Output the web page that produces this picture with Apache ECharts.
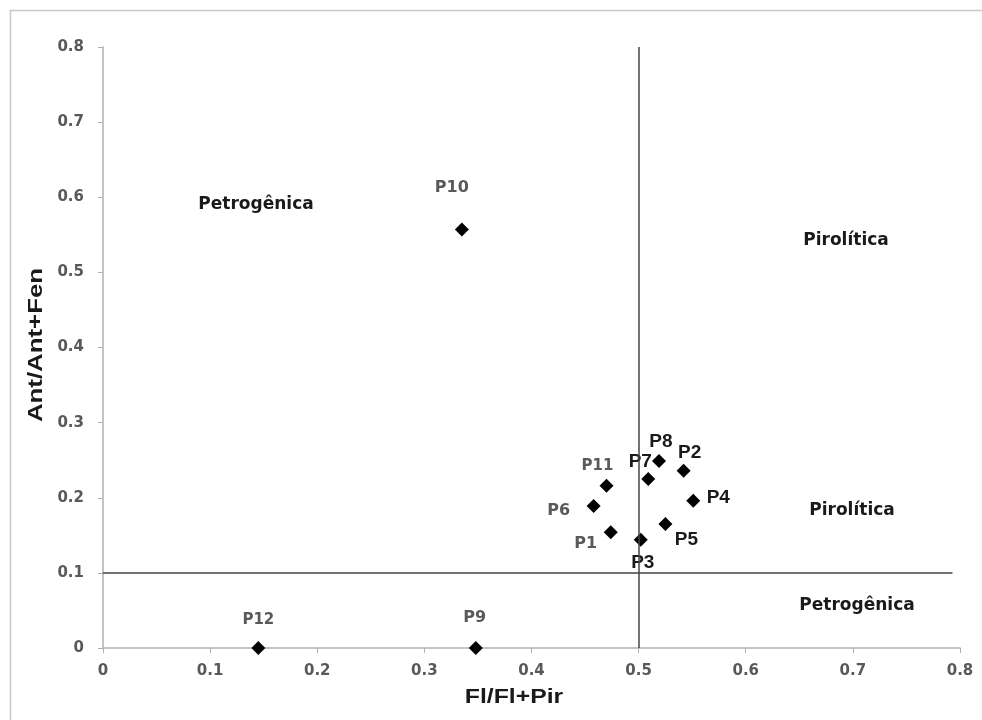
<!DOCTYPE html>
<html>
<head>
<meta charset="utf-8">
<script src="https://cdn.jsdelivr.net/npm/echarts@6/dist/echarts.min.js"></script>
<style>
  html, body { margin: 0; padding: 0; background: #fff; }
  #chart { width: 982px; height: 720px; }
</style>
</head>
<body>
<div id="chart"></div>
<script>
// amostras
const pointNames = ["P1", "P2", "P3", "P4", "P5", "P6", "P7", "P8", "P9", "P10", "P11", "P12"];
const flPir = [0.474, 0.542, 0.502, 0.551, 0.525, 0.458, 0.509, 0.519, 0.348, 0.335, 0.470, 0.145];
const antFen = [0.154, 0.236, 0.144, 0.196, 0.165, 0.189, 0.225, 0.249, 0.0, 0.557, 0.216, 0.0];
const xTicks = [0, 0.1, 0.2, 0.3, 0.4, 0.5, 0.6, 0.7, 0.8];
const yTicks = [0, 0.1, 0.2, 0.3, 0.4, 0.5, 0.6, 0.7, 0.8];
const flLimit = 0.5;
const antLimit = 0.1;

const sans = "'Liberation Sans', Arial, sans-serif";
const dejavu = "'DejaVu Sans', Verdana, sans-serif";

// etiquetas: deslocamento a partir do centro do marcador
const darkLabel = { fontFamily: sans, fontSize: 19, color: "#1a1a1a" };
const grayLabel = { fontFamily: dejavu, fontSize: 16, color: "#595959" };
const labelStyle = {
  P1: Object.assign({ offset: [-25, 12] }, grayLabel),
  P2: Object.assign({ offset: [6, -18] }, darkLabel),
  P3: Object.assign({ offset: [2, 23] }, darkLabel),
  P4: Object.assign({ offset: [25, -3] }, darkLabel),
  P5: Object.assign({ offset: [21, 16] }, darkLabel),
  P6: Object.assign({ offset: [-35, 5] }, grayLabel),
  P7: Object.assign({ offset: [-8, -17] }, darkLabel),
  P8: Object.assign({ offset: [2, -19] }, darkLabel),
  P9: Object.assign({ offset: [-1, -30] }, grayLabel),
  P10: Object.assign({ offset: [-10, -42] }, grayLabel),
  P11: Object.assign({ offset: [-9, -20] }, grayLabel, { fontSize: 15 }),
  P12: Object.assign({ offset: [0, -28] }, grayLabel, { fontSize: 15 }),
};

const seriesData = pointNames.map((n, i) => ({
  name: n,
  value: [flPir[i], antFen[i]],
  label: Object.assign({ show: true, position: "inside", formatter: n, fontWeight: "bold" }, labelStyle[n]),
}));

const regionText = (x, y, t) => ({
  type: "text", x: x, y: y, silent: true,
  style: { text: t, font: "bold 17px " + dejavu, fill: "#1a1a1a", align: "center", verticalAlign: "middle" },
});

const chart = echarts.init(document.getElementById("chart"));
chart.setOption({
  animation: false,
  grid: { left: 103, right: 22, top: 47, bottom: 72 },
  graphic: [
    // moldura (so esquerda e topo aparecem no recorte)
    { type: "polyline", silent: true, z: -10, shape: { points: [[10.5, 730], [10.5, 10.5], [990, 10.5]] }, style: { fill: null, stroke: "#c8c8c8", lineWidth: 1.5 } },
    regionText(256, 205, "Petrogênica"),
    regionText(846, 241, "Pirolítica"),
    regionText(852, 511, "Pirolítica"),
    regionText(857, 606, "Petrogênica"),
    // titulos dos eixos
    { type: "text", x: 514, y: 697, scaleX: 1.18, silent: true,
      style: { text: "Fl/Fl+Pir", font: "bold 21px " + sans, fill: "#1a1a1a", align: "center", verticalAlign: "middle" } },
    { type: "text", x: 36, y: 345, rotation: Math.PI / 2, scaleX: 1.23, silent: true,
      style: { text: "Ant/Ant+Fen", font: "bold 21px " + sans, fill: "#1a1a1a", align: "center", verticalAlign: "middle" } },
  ],
  xAxis: {
    type: "value",
    min: xTicks[0],
    max: xTicks[xTicks.length - 1],
    interval: 0.1,
    axisLine: { lineStyle: { color: "#b0b0b0", width: 1.5 } },
    axisTick: { show: true, length: 5, lineStyle: { color: "#b0b0b0" } },
    axisLabel: { fontFamily: dejavu, fontWeight: "bold", fontSize: 15, color: "#595959", margin: 16 },
    splitLine: { show: false },
  },
  yAxis: {
    type: "value",
    min: yTicks[0],
    max: yTicks[yTicks.length - 1],
    interval: 0.1,
    axisLine: { show: true, lineStyle: { color: "#b0b0b0", width: 1.5 } },
    axisTick: { show: true, length: 5, lineStyle: { color: "#b0b0b0" } },
    axisLabel: { fontFamily: dejavu, fontWeight: "bold", fontSize: 15, color: "#595959", margin: 19 },
    splitLine: { show: false },
  },
  series: [
    {
      type: "scatter",
      symbol: "diamond",
      symbolSize: 14,
      itemStyle: { color: "#000", opacity: 1 },
      data: seriesData,
      markLine: {
        silent: true,
        symbol: "none",
        animation: false,
        label: { show: false },
        lineStyle: { color: "#444", width: 1.5, type: "solid" },
        data: [
          [{ coord: [flLimit, 0] }, { coord: [flLimit, 0.8] }],
          [{ coord: [0, antLimit] }, { coord: [0.793, antLimit] }],
        ],
      },
    },
  ],
});
</script>
</body>
</html>
